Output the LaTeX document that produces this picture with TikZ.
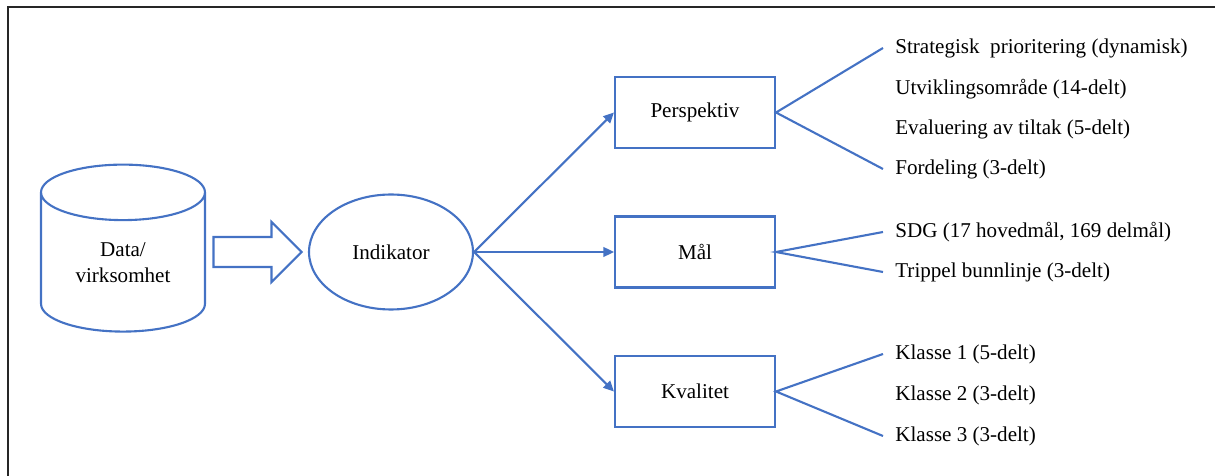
\documentclass[tikz,border=0pt]{standalone}
\usepackage{fontspec}
\setmainfont{Liberation Serif}
\usepackage{tikz}
\usetikzlibrary{shapes.geometric,shapes.arrows,arrows.meta}
\definecolor{office}{HTML}{4472C4}

\begin{document}
\begin{tikzpicture}[x=0.02cm, y=-0.02cm, font=\fontsize{12}{14.7}\selectfont,
	box/.style={rectangle, draw=office, line width=1.2pt, minimum width=3.2cm, minimum height=1.42cm},
	item/.style={anchor=west, inner xsep=0.24cm, inner ysep=0pt},
	fan/.style={draw=office, line width=1.2pt},
	flow/.style={draw=office, line width=1.2pt, -{Triangle[length=6pt,width=5.5pt]}}]
	\useasboundingbox (0,0) rectangle (1215,476);
	\draw[line width=0.9pt, black!85] (8,476) -- (8,7) -- (1215,7);

	\node[cylinder, shape border rotate=90, aspect=0.585, draw=office, line width=1.2pt, minimum width=3.28cm, minimum height=3.34cm, inner sep=0pt, align=center] at (123,262.5) (data) {Data/\\virksomhet};
	\node[single arrow, draw=office, line width=1.2pt, minimum height=1.76cm, inner xsep=0pt, inner ysep=0.28cm, single arrow head extend=0.3cm] at (250,252) (push) {};
	\node[ellipse, draw=office, line width=1.2pt, minimum width=3.28cm, minimum height=2.3cm, inner sep=0pt] at (391,252) (ind) {Indikator};

	\node[box] at (695,112.5) (persp) {Perspektiv};
	\node[box] at (695,252) (maal) {Mål};
	\node[box] at (695,391.5) (kval) {Kvalitet};

	\draw[flow] (ind.east) -- (persp.west);
	\draw[flow] (ind.east) -- (maal.west);
	\draw[flow] (ind.east) -- (kval.west);

%	perspektiv
	\node[item] at (883,48) (p1) {Strategisk \ prioritering (dynamisk)};
	\node[item] at (883,89) (p2) {Utviklingsområde (14-delt)};
	\node[item] at (883,129) (p3) {Evaluering av tiltak (5-delt)};
	\node[item] at (883,169) (p4) {Fordeling (3-delt)};
	\draw[fan] (p1.west) -- (persp.east) -- (p4.west);

%	mål
	\node[item] at (883,232) (m1) {SDG (17 hovedmål, 169 delmål)};
	\node[item] at (883,272) (m2) {Trippel bunnlinje (3-delt)};
	\draw[fan] (m1.west) -- (maal.east) -- (m2.west);

%	kvalitet
	\node[item] at (883,354) (k1) {Klasse 1 (5-delt)};
	\node[item] at (883,395) (k2) {Klasse 2 (3-delt)};
	\node[item] at (883,436) (k3) {Klasse 3 (3-delt)};
	\draw[fan] (k1.west) -- (kval.east) -- (k3.west);
\end{tikzpicture}
\end{document}
